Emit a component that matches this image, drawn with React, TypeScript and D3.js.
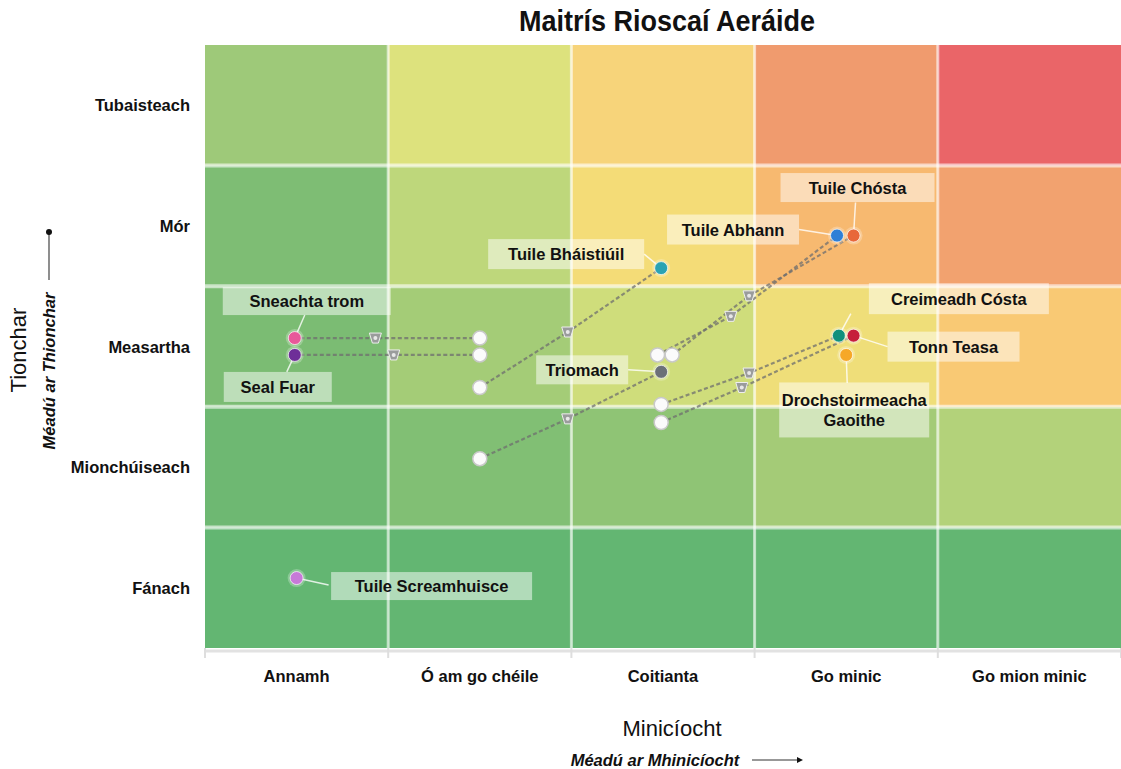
import React from "react";
import * as d3 from "d3";

const W = 1121;
const H = 769;

const frequencyLabels = ["Annamh", "Ó am go chéile", "Coitianta", "Go minic", "Go mion minic"];
const impactLabels = ["Fánach", "Mionchúiseach", "Measartha", "Mór", "Tubaisteach"];

// cell colours, rows from Fánach (bottom) upward, columns left to right
const cellPalette = [
  ["#63b672", "#63b672", "#63b672", "#63b672", "#63b672"],
  ["#6eb872", "#81bf74", "#8fc475", "#a4cb77", "#b3d27a"],
  ["#7bbc73", "#a4cc77", "#cfdd7b", "#efde79", "#f9c974"],
  ["#7ebd74", "#bed77b", "#f4dc77", "#f7b970", "#f2a26f"],
  ["#9ec979", "#dde27d", "#f7d47a", "#f09b6e", "#ea6568"],
];

const riskNames = [
  "Sneachta trom", "Seal Fuar", "Tuile Bháistiúil", "Triomach", "Tuile Abhann",
  "Tuile Chósta", "Creimeadh Cósta", "Tonn Teasa", "Drochstoirmeacha Gaoithe", "Tuile Screamhuisce",
];
// current position (frequency, impact) in category units 0..5
const nowX = [1.5, 1.5, 1.5, 1.5, 2.47, 2.55, 2.49, 2.49, null, null];
const nowY = [2.57, 2.43, 2.16, 1.57, 2.43, 2.43, 2.02, 1.87, null, null];
// mid-term position
const midX = [0.93, 1.03, 1.98, 1.98, 2.87, 2.97, 2.97, 2.93, null, null];
const midY = [2.57, 2.43, 2.62, 1.90, 2.75, 2.92, 2.28, 2.16, null, null];
// future position
const futX = [0.49, 0.49, 2.49, 2.49, 3.45, 3.54, 3.46, 3.54, 3.5, 0.5];
const futY = [2.57, 2.43, 3.15, 2.29, 3.42, 3.42, 2.59, 2.59, 2.43, 0.58];

const riskColors = [
  "#e8589a", "#6e2f98", "#2aa3b3", "#6b7078", "#2f7fd6",
  "#e8683a", "#12907c", "#c61f3b", "#f6a828", "#c77ad8",
];

// label box layout: centre offset from future dot (px), box size, leader end offsets
const labelLayout = [
  { dx: 12, dy: -37, w: 168, h: 28, lx: 10, ly: -23 },
  { dx: -17, dy: 32, w: 108, h: 30, lx: -8, ly: 17 },
  { dx: -95, dy: -14, w: 156, h: 30, lx: -17, ly: -14 },
  { dx: -79, dy: -2, w: 92, h: 29, lx: -33, ly: -2 },
  { dx: -104, dy: -6, w: 132, h: 30, lx: -38, ly: -6 },
  { dx: 4, dy: -48, w: 154, h: 29, lx: 2, ly: -33 },
  { dx: 120, dy: -37, w: 180, h: 31, lx: 12, ly: -22 },
  { dx: 100, dy: 11, w: 132, h: 30, lx: 34, ly: 11 },
  { dx: 8, dy: 55, w: 150, h: 55, lx: 1, ly: 28 },
  { dx: 135, dy: 8, w: 201, h: 28, lx: 32, ly: 7 },
];

const x = d3.scaleLinear().domain([0, 5]).range([205, 1121]);
const y = d3.scaleLinear().domain([0, 5]).range([648, 45]);

const FONT = "'Liberation Sans', Arial, Helvetica, sans-serif";
const FS = 16.5;

export default function App() {
  const line = d3.line<[number, number]>().x((d) => x(d[0])).y((d) => y(d[1]));
  const cells: JSX.Element[] = [];
  cellPalette.forEach((row, r) =>
    row.forEach((c, col) => {
      cells.push(
        <rect key={`c${r}-${col}`} x={x(col)} y={y(r + 1)} width={x(col + 1) - x(col)} height={y(r) - y(r + 1)} fill={c} />
      );
    })
  );

  return (
    <svg width={W} height={H} style={{ position: "absolute", left: 0, top: 0, background: "#fff" }} fontFamily={FONT}>
      <text x={667} y={31} textAnchor="middle" fontSize={29} fontWeight="bold" fill="#111" textLength={296} lengthAdjust="spacingAndGlyphs">Maitrís Rioscaí Aeráide</text>
      <g>{cells}</g>
      {/* grid */}
      {d3.range(1, 5).map((i) => (
        <line key={`gx${i}`} x1={x(i)} x2={x(i)} y1={y(5)} y2={y(0)} stroke="#fff" strokeOpacity={0.6} strokeWidth={3} />
      ))}
      {d3.range(1, 5).map((i) => (
        <line key={`gy${i}`} x1={x(0)} x2={x(5)} y1={y(i)} y2={y(i)} stroke="#fff" strokeOpacity={0.6} strokeWidth={4} />
      ))}
      {/* axis base */}
      <line x1={x(0)} x2={x(5)} y1={651} y2={651} stroke="#e2e2e2" strokeWidth={3} />
      {d3.range(0, 6).map((i) => (
        <line key={`t${i}`} x1={x(i)} x2={x(i)} y1={648} y2={658} stroke="#dedede" strokeWidth={2} />
      ))}
      {/* category labels */}
      {frequencyLabels.map((l, i) => (
        <text key={l} x={x(i + 0.5)} y={682} textAnchor="middle" fontSize={FS} fontWeight="bold" fill="#111">{l}</text>
      ))}
      {impactLabels.map((l, i) => (
        <text key={l} x={190} y={y(i + 0.5) + 6} textAnchor="end" fontSize={FS} fontWeight="bold" fill="#111">{l}</text>
      ))}
      {/* axis titles */}
      <text x={672} y={736} textAnchor="middle" fontSize={22} fill="#111">Minicíocht</text>
      <text x={655} y={766} textAnchor="middle" fontSize={16.5} fontWeight="bold" fontStyle="italic" fill="#111">Méadú ar Mhinicíocht</text>
      <line x1={752} x2={797} y1={760} y2={760} stroke="#333" strokeWidth={1.2} />
      <path d="M797,757 L803,760 L797,763 Z" fill="#111" />
      <text transform="translate(26,350) rotate(-90)" textAnchor="middle" fontSize={22} fill="#111">Tionchar</text>
      <text transform="translate(55,371) rotate(-90)" textAnchor="middle" fontSize={16.5} fontWeight="bold" fontStyle="italic" fill="#111">Méadú ar Thionchar</text>
      <line x1={49} x2={49} y1={234} y2={280} stroke="#444" strokeWidth={1.2} />
      <circle cx={49} cy={232} r={3} fill="#111" />

      {/* trajectories */}
      {riskNames.map((n, i) => {
        if (nowX[i] == null) return null;
        const pts: [number, number][] = [
          [nowX[i] as number, nowY[i] as number],
          [midX[i] as number, midY[i] as number],
          [futX[i], futY[i]],
        ];
        return (
          <path key={`l${i}`} d={line(pts) || ""} fill="none" stroke="#6f6f6f" strokeOpacity={0.75} strokeWidth={2.2} strokeDasharray="4,2.5" />
        );
      })}

      {/* label boxes with leaders */}
      {riskNames.map((n, i) => {
        const L = labelLayout[i];
        const fx = x(futX[i]);
        const fy = y(futY[i]);
        const cx = fx + L.dx;
        const cy = fy + L.dy;
        const parts = n === "Drochstoirmeacha Gaoithe" ? ["Drochstoirmeacha", "Gaoithe"] : [n];
        return (
          <g key={`lab${i}`}>
            <line x1={fx} y1={fy} x2={fx + L.lx} y2={fy + L.ly} stroke="#fff" strokeOpacity={0.8} strokeWidth={1.5} />
            <rect x={cx - L.w / 2} y={cy - L.h / 2} width={L.w} height={L.h} fill="#fff" fillOpacity={0.5} />
            {parts.map((p, k) => (
              <text key={k} x={cx} y={cy + 6 + (k - (parts.length - 1) / 2) * 20} textAnchor="middle" fontSize={FS} fontWeight="bold" fill="#111">{p}</text>
            ))}
          </g>
        );
      })}

      {/* mid markers */}
      {riskNames.map((n, i) => {
        if (midX[i] == null) return null;
        const mx = x(midX[i] as number);
        const my = y(midY[i] as number);
        return (
          <g key={`m${i}`} transform={`translate(${mx},${my})`}>
            <path d="M-6,-5 L6,-5 L3,5 L-3,5 Z" fill="#9a9c9c" stroke="#eee" strokeWidth={1} />
            <circle r={2} fill="#e8e8e8" />
          </g>
        );
      })}

      {/* current markers */}
      {riskNames.map((n, i) => {
        if (nowX[i] == null) return null;
        return (
          <circle key={`n${i}`} cx={x(nowX[i] as number)} cy={y(nowY[i] as number)} r={7} fill="#fbfbfb" stroke="#c9c9c9" strokeWidth={1.5} />
        );
      })}

      {/* future markers */}
      {riskNames.map((n, i) => (
        <g key={`f${i}`}>
          <circle cx={x(futX[i])} cy={y(futY[i])} r={9} fill="#fff" fillOpacity={0.25} />
          <circle cx={x(futX[i])} cy={y(futY[i])} r={6.5} fill={riskColors[i]} stroke="#fff" strokeOpacity={0.7} strokeWidth={1} />
        </g>
      ))}
    </svg>
  );
}
